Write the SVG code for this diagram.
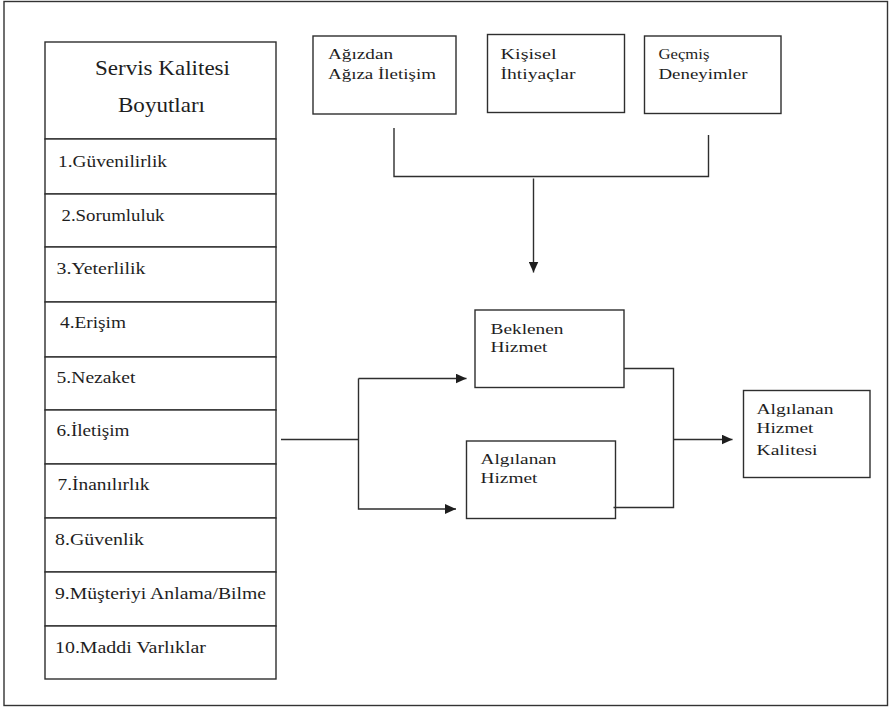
<svg xmlns="http://www.w3.org/2000/svg" width="893" height="707" viewBox="0 0 893 707">
<style>
.box{fill:#fff;stroke:#2e2e2e;stroke-width:1.4}
.ln{fill:none;stroke:#2e2e2e;stroke-width:1.4}
text{font-family:'Liberation Serif','Times New Roman',serif;fill:#1e1e1e}
.hd{font-size:21px}
.rw{font-size:17.5px}
.bx{font-size:15.5px}
</style>
<defs>
<marker id="ah" viewBox="0 0 11 10" refX="11" refY="5" markerWidth="11" markerHeight="10" markerUnits="userSpaceOnUse" orient="auto">
<path d="M0,0 L11,5 L0,10 z" fill="#1e1e1e"/>
</marker>
</defs>
<rect width="893" height="707" fill="#fff"/>
<rect x="4" y="1.5" width="883.5" height="704" fill="none" stroke="#333" stroke-width="1.4"/>

<g id="servis-kalitesi-boyutlari">
<rect class="box" x="45" y="42" width="231" height="97"/>
<text class="hd" x="162.5" y="75" text-anchor="middle" textLength="135" lengthAdjust="spacingAndGlyphs">Servis Kalitesi</text>
<text class="hd" x="161.5" y="111.5" text-anchor="middle" textLength="87" lengthAdjust="spacingAndGlyphs">Boyutları</text>
</g>
<g id="row-1"><rect class="box" x="45" y="139" width="231" height="55"/><text class="rw" x="58" y="167" textLength="109" lengthAdjust="spacingAndGlyphs">1.Güvenilirlik</text></g>
<g id="row-2"><rect class="box" x="45" y="194" width="231" height="53"/><text class="rw" x="61.5" y="221" textLength="103" lengthAdjust="spacingAndGlyphs">2.Sorumluluk</text></g>
<g id="row-3"><rect class="box" x="45" y="247" width="231" height="55"/><text class="rw" x="56.5" y="273.5" textLength="89" lengthAdjust="spacingAndGlyphs">3.Yeterlilik</text></g>
<g id="row-4"><rect class="box" x="45" y="302" width="231" height="55"/><text class="rw" x="60" y="328" textLength="66" lengthAdjust="spacingAndGlyphs">4.Erişim</text></g>
<g id="row-5"><rect class="box" x="45" y="357" width="231" height="53"/><text class="rw" x="56.5" y="383" textLength="79" lengthAdjust="spacingAndGlyphs">5.Nezaket</text></g>
<g id="row-6"><rect class="box" x="45" y="410" width="231" height="54"/><text class="rw" x="56.5" y="436" textLength="73" lengthAdjust="spacingAndGlyphs">6.İletişim</text></g>
<g id="row-7"><rect class="box" x="45" y="464" width="231" height="54"/><text class="rw" x="57.5" y="490" textLength="92" lengthAdjust="spacingAndGlyphs">7.İnanılırlık</text></g>
<g id="row-8"><rect class="box" x="45" y="518" width="231" height="54"/><text class="rw" x="55" y="545" textLength="89" lengthAdjust="spacingAndGlyphs">8.Güvenlik</text></g>
<g id="row-9"><rect class="box" x="45" y="572" width="231" height="54"/><text class="rw" x="55" y="598.5" textLength="211" lengthAdjust="spacingAndGlyphs">9.Müşteriyi Anlama/Bilme</text></g>
<g id="row-10"><rect class="box" x="45" y="626" width="231" height="53"/><text class="rw" x="55" y="652.5" textLength="151" lengthAdjust="spacingAndGlyphs">10.Maddi Varlıklar</text></g>

<g id="agizdan-agiza-iletisim">
<rect class="box" x="313" y="36" width="143" height="78"/>
<text class="bx" x="328" y="58.5" textLength="65" lengthAdjust="spacingAndGlyphs">Ağızdan</text>
<text class="bx" x="328" y="78.5" textLength="108" lengthAdjust="spacingAndGlyphs">Ağıza İletişim</text>
</g>
<g id="kisisel-ihtiyaclar">
<rect class="box" x="487.5" y="34.5" width="137" height="78"/>
<text class="bx" x="500.5" y="58.5" textLength="56" lengthAdjust="spacingAndGlyphs">Kişisel</text>
<text class="bx" x="500.5" y="78.5" textLength="75" lengthAdjust="spacingAndGlyphs">İhtiyaçlar</text>
</g>
<g id="gecmis-deneyimler">
<rect class="box" x="644.5" y="36" width="136.5" height="77.5"/>
<text class="bx" x="658.5" y="58.5" textLength="51" lengthAdjust="spacingAndGlyphs">Geçmiş</text>
<text class="bx" x="658.5" y="78.5" textLength="89" lengthAdjust="spacingAndGlyphs">Deneyimler</text>
</g>
<g id="beklenen-hizmet">
<rect class="box" x="475" y="310" width="149" height="77.5"/>
<text class="bx" x="490.5" y="334" textLength="73" lengthAdjust="spacingAndGlyphs">Beklenen</text>
<text class="bx" x="490.5" y="352" textLength="57" lengthAdjust="spacingAndGlyphs">Hizmet</text>
</g>
<g id="algilanan-hizmet">
<rect class="box" x="466.5" y="441" width="149" height="77.5"/>
<text class="bx" x="480.5" y="464" textLength="76" lengthAdjust="spacingAndGlyphs">Algılanan</text>
<text class="bx" x="480.5" y="482.5" textLength="57" lengthAdjust="spacingAndGlyphs">Hizmet</text>
</g>
<g id="algilanan-hizmet-kalitesi">
<rect class="box" x="743.5" y="390.5" width="126.5" height="87"/>
<text class="bx" x="756.5" y="413.5" textLength="77" lengthAdjust="spacingAndGlyphs">Algılanan</text>
<text class="bx" x="756.5" y="433" textLength="57" lengthAdjust="spacingAndGlyphs">Hizmet</text>
<text class="bx" x="756.5" y="455" textLength="61" lengthAdjust="spacingAndGlyphs">Kalitesi</text>
</g>

<g id="connectors">
<path class="ln" d="M394,128 V176.5 H708.5 V135"/>
<path class="ln" d="M533.5,178.5 V272.5" marker-end="url(#ah)"/>
<path class="ln" d="M281,439.5 H358.5"/>
<path class="ln" d="M358.5,378.5 V509 H456" marker-end="url(#ah)"/>
<path class="ln" d="M358.5,378.5 H466.5" marker-end="url(#ah)"/>
<path class="ln" d="M624,368.5 H673.5 V507.5 H613.5"/>
<path class="ln" d="M673.5,439.5 H732.5" marker-end="url(#ah)"/>
</g>
</svg>
